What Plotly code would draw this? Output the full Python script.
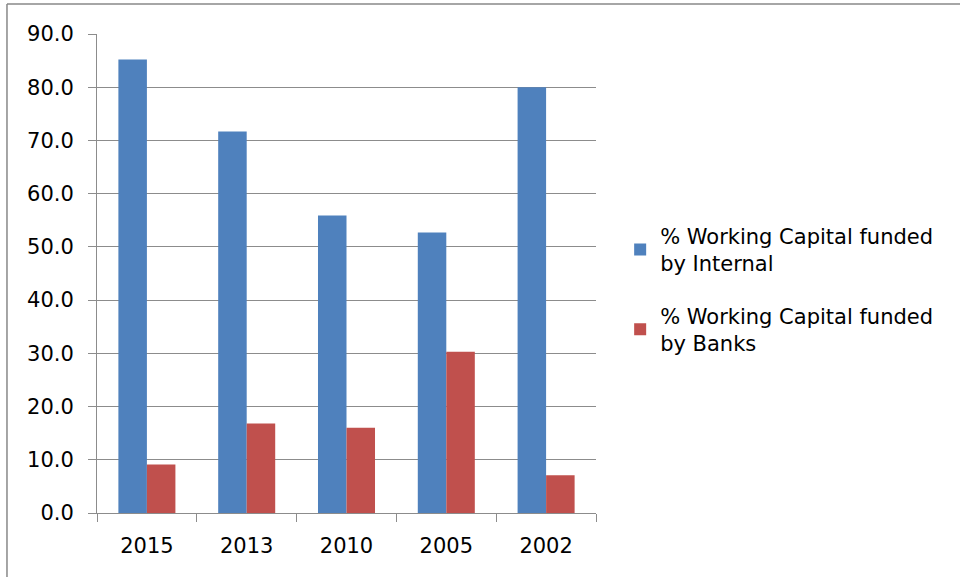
import plotly.graph_objects as go

years = ["2015", "2013", "2010", "2005", "2002"]
internal = [85.2, 71.7, 55.9, 52.7, 80.0]
banks = [9.1, 16.8, 16.0, 30.3, 7.1]
series_names = ["% Working Capital funded<br>by Internal", "% Working Capital funded<br>by Banks"]
colors = ["#4F81BD", "#C0504D"]

FONT = "DejaVu Sans"
GRID = "#8C8C8C"

fig = go.Figure()
fig.add_trace(go.Bar(x=years, y=internal, name=series_names[0], legendgroup="internal",
                     marker=dict(color=colors[0], line=dict(width=0))))
fig.add_trace(go.Bar(x=years, y=banks, name=series_names[1], legendgroup="banks",
                     marker=dict(color=colors[1], line=dict(width=0))))

fig.update_layout(
    width=960, height=577,
    margin=dict(l=97, r=364, t=34, b=64),
    paper_bgcolor="white", plot_bgcolor="white",
    barmode="group", bargap=0.4286, bargroupgap=0,
    font=dict(family=FONT, size=21, color="black"),
    showlegend=True,
    legend=dict(
        x=0.646, xref="container", xanchor="left",
        y=0.626, yref="container", yanchor="top",
        font=dict(family=FONT, size=21, color="black"),
        tracegroupgap=22, itemwidth=30, bgcolor="rgba(0,0,0,0)",
    ),
    xaxis=dict(
        type="category", showgrid=False, showline=True, linecolor=GRID, linewidth=1,
        ticks="outside", tickson="boundaries", ticklen=8, tickcolor=GRID,
        ticklabelstandoff=14,
    ),
    yaxis=dict(
        range=[0, 90], dtick=10, tickformat=".1f", showgrid=True, gridcolor=GRID, gridwidth=1,
        showline=True, linecolor=GRID, linewidth=1, ticks="outside", ticklen=8, tickcolor=GRID,
        zeroline=False, ticklabelstandoff=10,
    ),
)

# outer chart frame (left and top edges visible)
fig.add_shape(type="line", xref="paper", yref="paper", x0=-0.1804, x1=1.8, y0=1.0626, y1=1.0626,
              line=dict(color="#888888", width=1.5))
fig.add_shape(type="line", xref="paper", yref="paper", x0=-0.1804, x1=-0.1804, y0=-0.2, y1=1.0626,
              line=dict(color="#888888", width=1.5))

fig.write_html("out.html")
